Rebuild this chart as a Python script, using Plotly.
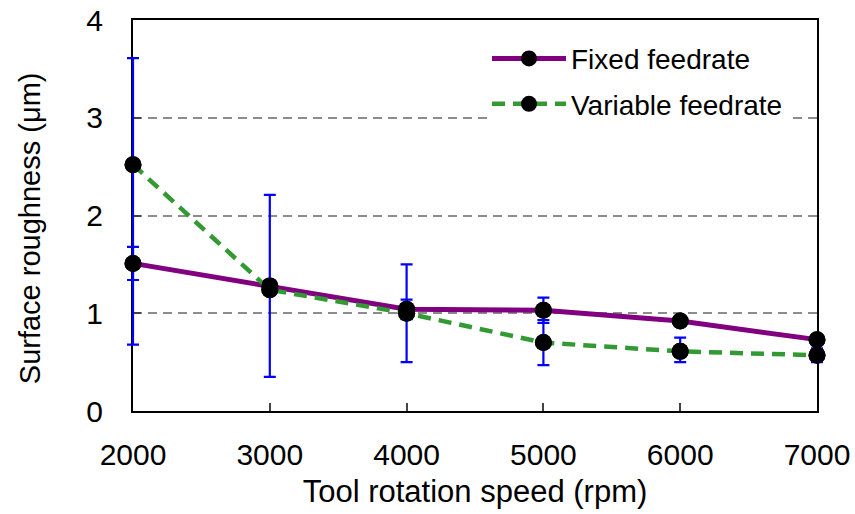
import plotly.graph_objects as go

speed = [2000, 3000, 4000, 5000, 6000, 7000]
fixed = [1.51, 1.28, 1.04, 1.03, 0.92, 0.73]
fixed_err_plus = [0.17, 0.93, 0.10, 0.13, 0.05, 0.03]
fixed_err_minus = [0.17, 0.93, 0.10, 0.13, 0.05, 0.03]
variable = [2.52, 1.24, 1.00, 0.70, 0.61, 0.57]
variable_err_plus = [1.09, 0.05, 0.50, 0.23, 0.14, 0.07]
variable_err_minus = [1.84, 0.05, 0.50, 0.23, 0.11, 0.07]

FONT = "Liberation Sans, Arial, sans-serif"
W, H = 855, 514
ML, MR, MT, MB = 123, 28, 20, 103
PAD = 10  # extra px around the framed axes so marks at the frame are not clipped
inner_w = W - ML - MR
d0 = PAD / inner_w
xmin, xmax = 2000, 7000
ext = (xmax - xmin) * PAD / (inner_w - 2 * PAD)

fig = go.Figure()

def err(p, m):
    return dict(type="data", symmetric=False, array=p, arrayminus=m,
                color="#0000ff", thickness=2.2, width=6)

# data traces live on an unframed twin subplot (x2/y2) that shares the same scale
fig.add_trace(go.Scatter(x=speed, y=fixed, name="Fixed feedrate", mode="lines+markers",
                         legendgroup="a", xaxis="x2", yaxis="y2",
                         line=dict(color="#800080", width=5),
                         marker=dict(color="black", size=17), cliponaxis=False))
fig.add_trace(go.Scatter(x=speed, y=variable, name="Variable feedrate", mode="lines+markers",
                         legendgroup="b", xaxis="x2", yaxis="y2",
                         line=dict(color="#339933", width=4.5, dash="13px,8px"),
                         marker=dict(color="black", size=17), cliponaxis=False))
for ys, p, m in ((fixed, fixed_err_plus, fixed_err_minus),
                 (variable, variable_err_plus, variable_err_minus)):
    fig.add_trace(go.Scatter(x=speed, y=ys, mode="markers", showlegend=False,
                             xaxis="x2", yaxis="y2",
                             marker=dict(color="black", size=1, opacity=0),
                             error_y=err(p, m), hoverinfo="skip"))
for ys in (fixed, variable):
    fig.add_trace(go.Scatter(x=speed, y=ys, mode="markers", showlegend=False,
                             xaxis="x2", yaxis="y2",
                             marker=dict(color="black", size=17), cliponaxis=False, hoverinfo="skip"))
# invisible trace to instantiate the framed subplot
fig.add_trace(go.Scatter(x=[xmin], y=[0], mode="markers", showlegend=False,
                         marker=dict(opacity=0), hoverinfo="skip"))

fig.update_layout(
    width=W, height=H,
    margin=dict(l=ML, r=MR, t=MT, b=MB),
    paper_bgcolor="white", plot_bgcolor="rgba(0,0,0,0)",
    font=dict(family=FONT, size=28, color="black"),
    showlegend=True,
    legend=dict(x=(487 - ML) / inner_w, y=0.965, xanchor="left", yanchor="top", bgcolor="white",
                font=dict(size=28), itemwidth=74, tracegroupgap=6),
    xaxis=dict(domain=[d0, 1 - d0], range=[xmin, xmax], tickvals=speed, ticks="inside",
               ticklen=8, tickwidth=1.5, showline=True, linecolor="black", linewidth=2,
               mirror=True, showgrid=False, zeroline=False, tickfont=dict(size=30),
               ticklabelstandoff=16, automargin=False,
               title=dict(text="Tool rotation speed (rpm)", font=dict(size=31), standoff=10)),
    yaxis=dict(range=[0, 4], tickvals=[0, 1, 2, 3, 4], ticks="inside", ticklen=8, tickwidth=1.5,
               showline=True, linecolor="black", linewidth=2, mirror=True,
               showgrid=True, gridcolor="#8c8c8c", gridwidth=1.5, griddash="9px,6px",
               zeroline=False, tickfont=dict(size=30), ticklabelstandoff=22,
               automargin=False),
    xaxis2=dict(domain=[0, 1], range=[xmin - ext, xmax + ext], visible=False, anchor="y2"),
    yaxis2=dict(domain=[0, 1], range=[0, 4], visible=False, anchor="x2"),
    annotations=[dict(text="Surface roughness (μm)", textangle=-90, showarrow=False,
                      xref="paper", yref="paper", x=(30 - ML) / inner_w, y=(410.8 - 228) / 391,
                      xanchor="center", yanchor="middle", font=dict(size=29))],
)
fig.write_html("out.html")
